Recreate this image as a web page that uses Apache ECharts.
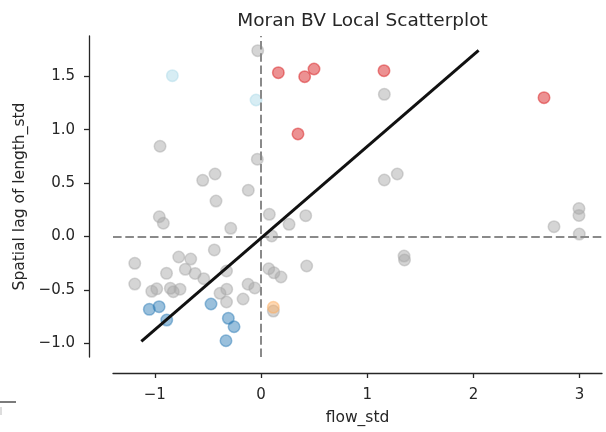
<!DOCTYPE html>
<html>
<head>
<meta charset="utf-8">
<script src="https://cdn.jsdelivr.net/npm/echarts@6/dist/echarts.min.js"></script>
<style>
  html, body { margin: 0; padding: 0; background: #ffffff; }
  #chart { width: 606px; height: 432px; }
</style>
</head>
<body>
<div id="chart"></div>
<script>
// Tick positions
const xTicks = [-1, 0, 1, 2, 3];
const yTicks = [-1.0, -0.5, 0.0, 0.5, 1.0, 1.5];

// Not significant
const nsX = [-0.031, -0.951, -0.035, -0.433, -0.549, -0.120, -0.424, 1.161, 1.161, 1.283,
             2.994, 2.994, 2.997, 2.759, 0.421, 0.430, 1.347, 1.351, -0.958, -0.920,
             0.078, 0.264, -0.285, 0.101, -0.440, -0.775, -0.662, -1.189, -0.713, -0.890,
             -0.621, -0.539, -0.325, 0.073, 0.122, 0.188, -1.189, -1.029, -0.982, -0.854,
             -0.826, -0.763, -0.122, -0.059, -0.386, -0.323, -0.325, -0.169, 0.116];
const nsY = [1.740, 0.845, 0.723, 0.585, 0.526, 0.433, 0.332, 1.331, 0.529, 0.585,
             0.262, 0.197, 0.023, 0.092, 0.195, -0.276, -0.183, -0.220, 0.185, 0.124,
             0.208, 0.114, 0.077, 0.005, -0.126, -0.192, -0.211, -0.251, -0.307, -0.345,
             -0.346, -0.395, -0.323, -0.302, -0.340, -0.379, -0.445, -0.513, -0.490, -0.485,
             -0.517, -0.493, -0.447, -0.482, -0.532, -0.494, -0.613, -0.585, -0.698];

// High-High
const hhX = [0.163, 0.411, 0.499, 1.158, 0.348, 2.665];
const hhY = [1.534, 1.496, 1.568, 1.552, 0.960, 1.300];

// Low-High
const lhX = [-0.835, -0.047];
const lhY = [1.506, 1.278];

// Low-Low
const llX = [-1.052, -0.960, -0.888, -0.471, -0.308, -0.254, -0.330];
const llY = [-0.682, -0.657, -0.782, -0.632, -0.766, -0.845, -0.976];

// High-Low
const hlX = [0.116];
const hlY = [-0.663];

// Fitted line end points
const fitX = [-1.127, 2.049];
const fitY = [-0.982, 1.743];

const TEXT = '#262626';
const FONT = 'DejaVu Sans';

function pairs(xs, ys) { return xs.map((x, i) => [x, ys[i]]); }
function minusFmt(v, digits) {
  const s = digits == null ? String(Math.abs(v)) : Math.abs(v).toFixed(digits);
  return v < 0 ? '\u2212' + s : s;
}

function scatter(name, xs, ys, rgb) {
  return {
    name: name,
    type: 'scatter',
    data: pairs(xs, ys),
    symbol: 'circle',
    symbolSize: 11.5,
    silent: true,
    itemStyle: {
      color: 'rgba(' + rgb + ',0.6)',
      borderColor: 'rgba(' + rgb + ',0.6)',
      borderWidth: 1.5
    },
    z: 2
  };
}

const chart = echarts.init(document.getElementById('chart'), null, { renderer: 'canvas' });

const nsSeries = scatter('ns', nsX, nsY, '168,168,168');
nsSeries.markLine = {
  silent: true,
  symbol: ['none', 'none'],
  label: { show: false },
  lineStyle: { type: [8.6, 3.7], color: '#8a8a8a', width: 2 },
  data: [{ xAxis: 0 }, { yAxis: 0 }],
  z: 3
};

chart.setOption({
  animation: false,
  backgroundColor: '#ffffff',
  textStyle: { fontFamily: FONT, color: TEXT },
  title: {
    text: 'Moran BV Local Scatterplot',
    left: 357.5,
    textAlign: 'center',
    top: 7,
    textStyle: { fontFamily: FONT, fontSize: 18.5, fontWeight: 'normal', color: TEXT }
  },
  grid: { left: 113, right: 4, top: 36, bottom: 75, containLabel: false },
  xAxis: {
    type: 'value',
    min: -1.394,
    max: 3.211,
    offset: 16,
    splitLine: { show: false },
    axisLine: { show: true, onZero: false, lineStyle: { color: TEXT, width: 1.3 } },
    axisTick: { show: true, customValues: xTicks, length: 5, lineStyle: { color: TEXT, width: 1.3 } },
    axisLabel: {
      customValues: xTicks,
      formatter: v => minusFmt(v),
      fontFamily: FONT, fontSize: 15, color: TEXT, margin: 15
    },
    name: 'flow_std',
    nameLocation: 'middle',
    nameGap: 37,
    nameTextStyle: { fontFamily: FONT, fontSize: 15.5, color: TEXT }
  },
  yAxis: {
    type: 'value',
    min: -1.128,
    max: 1.877,
    offset: 24,
    splitLine: { show: false },
    axisLine: { show: true, onZero: false, lineStyle: { color: TEXT, width: 1.3 } },
    axisTick: { show: true, customValues: yTicks, length: 5, lineStyle: { color: TEXT, width: 1.3 } },
    axisLabel: {
      customValues: yTicks,
      formatter: v => minusFmt(v, 1),
      fontFamily: FONT, fontSize: 15, color: TEXT, margin: 14
    },
    name: 'Spatial lag of length_std',
    nameLocation: 'middle',
    nameGap: 60,
    nameTextStyle: { fontFamily: FONT, fontSize: 15.5, color: TEXT }
  },
  series: [
    nsSeries,
    scatter('HH', hhX, hhY, '215,25,28'),
    scatter('LH', lhX, lhY, '171,217,233'),
    scatter('LL', llX, llY, '44,123,182'),
    scatter('HL', hlX, hlY, '253,174,97'),
    {
      name: 'fit',
      type: 'line',
      data: pairs(fitX, fitY),
      symbol: 'none',
      silent: true,
      lineStyle: { color: '#111111', width: 3 },
      z: 4
    }
  ],
  graphic: [
    { type: 'line', shape: { x1: 0, y1: 402, x2: 16, y2: 402 }, style: { stroke: '#333', lineWidth: 1.3 }, silent: true },
    { type: 'line', shape: { x1: 1, y1: 407, x2: 1, y2: 415 }, style: { stroke: '#bbb', lineWidth: 1 }, silent: true }
  ]
});
</script>
</body>
</html>
